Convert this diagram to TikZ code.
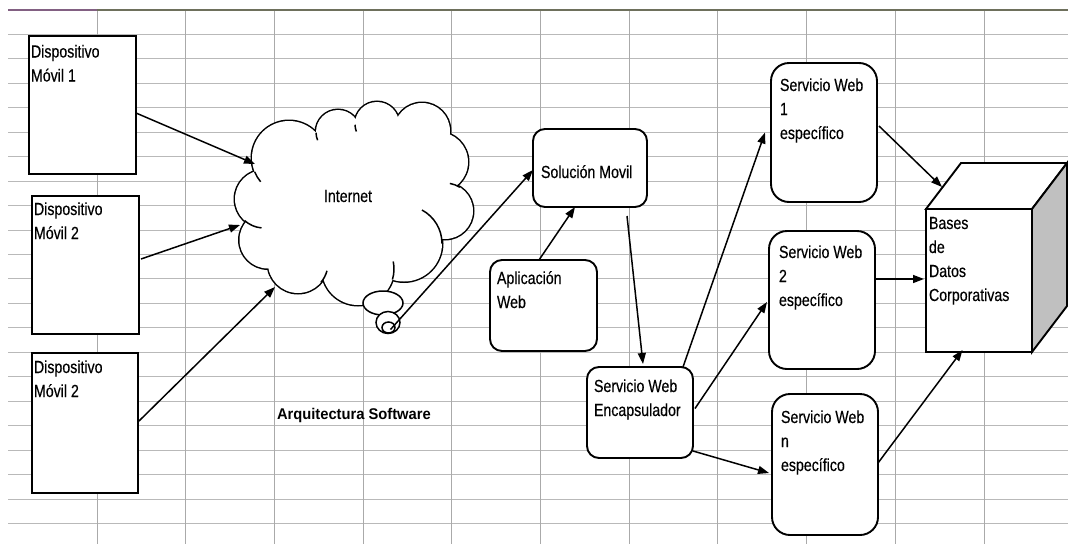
\documentclass[tikz,border=0pt]{standalone}
\usepackage{fontspec}
\setmainfont{Liberation Sans}[FakeStretch=0.81, FakeBold=0.35]
\newfontfamily\captionfont{Liberation Sans}[FakeStretch=0.95]
\usetikzlibrary{arrows.meta,calc,shapes.geometric}
\definecolor{gridv}{RGB}{170,170,170}
\definecolor{gridh}{RGB}{185,185,185}
\definecolor{toppurple}{RGB}{130,96,130}
\definecolor{topolive}{RGB}{110,112,92}
\definecolor{sideface}{RGB}{192,192,192}
\newcommand{\txtlines}[1]{\begin{tabular}[t]{@{}l@{}}#1\end{tabular}}
\tikzset{
  box/.style={draw, line width=1.9pt, fill=white, inner sep=0pt, outer sep=0pt, anchor=north west},
  rbox/.style={box, rounded corners=12pt},
  sbox/.style={box, rounded corners=18pt},
  lbl/.style={anchor=base west, inner sep=0pt, outer sep=0pt},
  arr/.style={-{Triangle[length=11pt,width=8pt]}, line width=1.5pt},
  bubble/.style={ellipse, draw, line width=1.5pt, fill=white, inner sep=0pt},
  cloudline/.style={line width=1.5pt},
  hgrid/.style={draw=gridh, line width=1pt},
  vgrid/.style={draw=gridv, line width=1pt}
}
\begin{document}
\begin{tikzpicture}[x=1pt, y=-1pt, font=\fontsize{17.5}{24}\selectfont]
\useasboundingbox (0,0) rectangle (1068,544);

% spreadsheet grid
\foreach \k in {1,...,21} \draw[hgrid] (8,{10+24.45*\k}) -- (1068,{10+24.45*\k});
\foreach \k in {0,...,10} \draw[vgrid] ({97+88.7*\k},10) -- ({97+88.7*\k},544);
\draw[line width=2pt, toppurple] (8,10) -- (97,10);
\draw[line width=2pt, topolive] (97,10) -- (1068,10);

% cloud: union of lobes, outlined by a wide stroke then filled
\def\lobes{289/158/37, 338/132/22, 377/124/22, 422/131/28, 438/162/30, 445/211/28,
  404/243.5/38, 358/269/36, 298/263/30, 268/240/28.5, 264/199/29}
\foreach \cx/\cy/\r in \lobes \draw[line width=3pt] (\cx,\cy) circle[radius=\r];
\draw[line width=3pt] (355,195) ellipse[x radius=85, y radius=70];
\foreach \cx/\cy/\r in \lobes \fill[white] (\cx,\cy) circle[radius=\r];
\fill[white] (355,195) ellipse[x radius=85, y radius=70];
% inner curls of the lobes
\draw[cloudline] (404,243.5) ++(-61.7:38) arc[start angle=-61.7, end angle=0, radius=38];
\draw[cloudline] (358,269) ++(-12:36) arc[start angle=-12, end angle=17, radius=36];
\draw[cloudline] (298,263) ++(15:30) arc[start angle=15, end angle=40, radius=30];
\draw[cloudline] (264,199) ++(95:29) arc[start angle=95, end angle=132, radius=29];
\draw[cloudline] (338,132) ++(178:22) arc[start angle=178, end angle=158, radius=22];
\draw[cloudline] (377,124) ++(178:22) arc[start angle=178, end angle=160, radius=22];
\draw[cloudline] (445,211) ++(-58:28) arc[start angle=-58, end angle=-80, radius=28];
\draw[cloudline] (289,158) ++(158:37) arc[start angle=158, end angle=140, radius=37];
\node[inner sep=0pt, anchor=base] (net) at (348,202) {Internet};

% thought bubbles below the cloud
\node[bubble, minimum width=40pt, minimum height=24pt] (b1) at (383,303) {};
\node[bubble, minimum width=24pt, minimum height=22pt] (b2) at (388,322.5) {};
\node[bubble, minimum width=13pt, minimum height=11pt] (b3) at (388.5,327.5) {};

% cloud contact points
\coordinate (inA) at (255,164);
\coordinate (inB) at (240,225);
\coordinate (inC) at (275,287);

% mobile devices
\node[box, minimum width=107pt, minimum height=138pt] (d1) at (29,36) {};
\node[lbl] (d1t) at (31,57.5) {\txtlines{Dispositivo\\Móvil 1}};
\node[box, minimum width=107pt, minimum height=138pt] (d2) at (32,196) {};
\node[lbl] (d2t) at (34,215) {\txtlines{Dispositivo\\Móvil 2}};
\node[box, minimum width=106pt, minimum height=140pt] (d3) at (32,353) {};
\node[lbl] (d3t) at (34,373) {\txtlines{Dispositivo\\Móvil 2}};

% middle tier
\node[rbox, minimum width=114pt, minimum height=78pt] (sol) at (533,129) {};
\node[lbl] (solt) at (541,178) {Solución Movil};
\node[rbox, minimum width=107pt, minimum height=91pt] (app) at (490,260) {};
\node[lbl] (appt) at (497,284) {\txtlines{Aplicación\\Web}};
\node[rbox, minimum width=106pt, minimum height=91pt] (enc) at (587,367) {};
\node[lbl] (enct) at (594,392) {\txtlines{Servicio Web\\Encapsulador}};

% specific web services
\node[sbox, minimum width=106pt, minimum height=139pt] (sw1) at (771,63) {};
\node[lbl] (sw1t) at (780,91) {\txtlines{Servicio Web\\1\\específico}};
\node[sbox, minimum width=106pt, minimum height=138pt] (sw2) at (769,231) {};
\node[lbl] (sw2t) at (779,258) {\txtlines{Servicio Web\\2\\específico}};
\node[sbox, minimum width=106pt, minimum height=141pt] (swn) at (772,394) {};
\node[lbl] (swnt) at (781,423) {\txtlines{Servicio Web\\n\\específico}};

% corporate database cube
\node[box, minimum width=106pt, minimum height=143pt] (db) at (926,209) {};
\filldraw[line width=1.9pt, fill=white, line join=miter] (db.north west) -- ++(35,-46) -- ++(106,0) -- (db.north east) -- cycle;
\filldraw[line width=1.9pt, fill=sideface, line join=miter] (db.north east) -- ++(35,-46) -- ++(0,143) -- (db.south east) -- cycle;
\node[lbl] (dbt) at (929,229) {\txtlines{Bases\\de\\Datos\\Corporativas}};

\node[lbl, font=\captionfont\bfseries\fontsize{15.5}{18}\selectfont] (arq) at (277,419) {Arquitectura Software};

% connectors
\draw[arr] ([yshift=-8pt]d1.east) -- (inA);
\draw[arr] ([xshift=2pt,yshift=6pt]d2.east) -- (inB);
\draw[arr] ([xshift=1pt,yshift=2pt]d3.east) -- (inC);
\draw[arr] ([xshift=2pt,yshift=-2pt]b3.center) -- ([yshift=-2pt]sol.west);
\draw[arr] ([xshift=-4.5pt]app.north) -- ([xshift=-15pt]sol.south);
\draw[arr] ([xshift=37pt,yshift=-9pt]sol.south) -- ([xshift=3pt,yshift=3pt]enc.north);
\draw[arr] ([xshift=-10pt]enc.north east) -- ([xshift=-6pt]sw1.west);
\draw[arr] ([xshift=2pt,yshift=4pt]enc.east) -- ([xshift=-2pt,yshift=-2pt]sw2.west);
\draw[arr] ([yshift=7pt]enc.south east) -- ([xshift=-3pt,yshift=-8.5pt]swn.west);
\draw[arr] ([xshift=2pt,yshift=6.5pt]sw1.east) -- ([xshift=16pt,yshift=22pt]db.north west);
\draw[arr] ([yshift=21pt]sw2.east) -- ([xshift=-2pt,yshift=1.5pt]db.west);
\draw[arr] ([yshift=1.5pt]swn.east) -- ([xshift=-16.5pt,yshift=2pt]db.south);
\end{tikzpicture}
\end{document}
